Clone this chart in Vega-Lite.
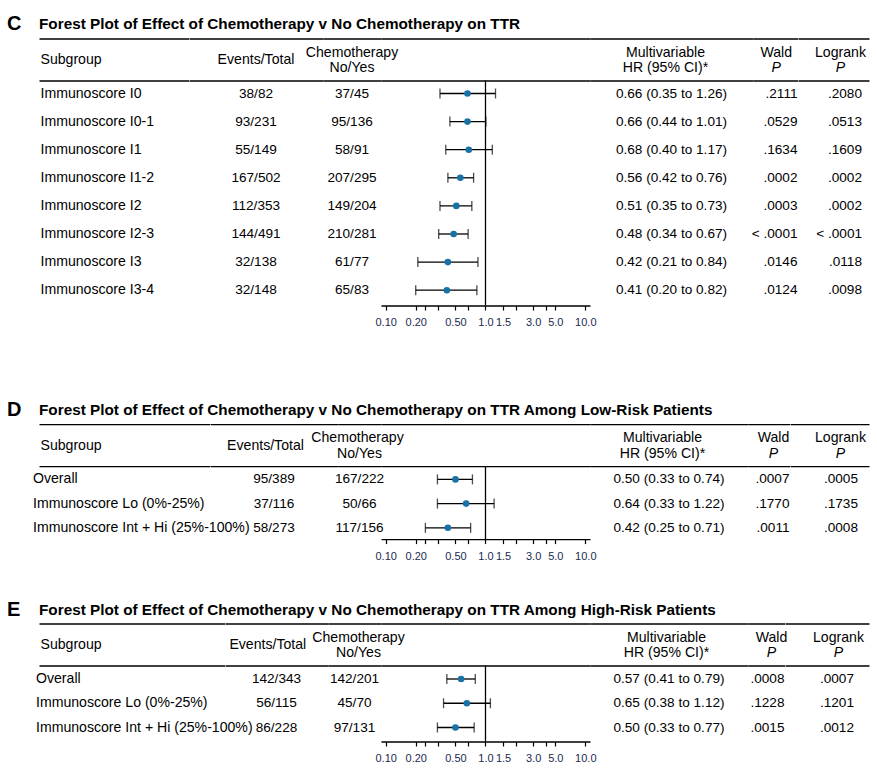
{
"$schema": "https://vega.github.io/schema/vega-lite/v6.json",
"padding": {"left": 7, "top": 13.5, "right": 4, "bottom": 4},
"config": {
 "view": {"stroke": null},
 "text": {"font": "Liberation Sans", "fontSize": 13.6, "baseline": "middle", "color": "#000000"},
 "axisY": {"grid": true, "gridColor": "#000000", "gridWidth": 1.3, "gridOpacity": 1, "labels": false, "ticks": false, "domain": false},
 "axisX": {"grid": false, "tickSize": 4.5, "tickWidth": 1.2, "tickColor": "#000000", "domainColor": "#000000", "domainWidth": 1.3, "labelFont": "Liberation Sans", "labelFontSize": 11, "labelColor": "#1a2a50", "labelPadding": 6.5, "labelOverlap": false, "labelFlush": false, "labelBound": false}
},
"datasets": {
 "C": [
  {"row": 1, "subgroup": "Immunoscore I0", "events": "38/82", "chemo": "37/45", "hr": "0.66 (0.35 to 1.26)", "wald": ".2111", "logrank": ".2080", "est": 0.66, "lo": 0.35, "hi": 1.26},
  {"row": 2, "subgroup": "Immunoscore I0-1", "events": "93/231", "chemo": "95/136", "hr": "0.66 (0.44 to 1.01)", "wald": ".0529", "logrank": ".0513", "est": 0.66, "lo": 0.44, "hi": 1.01},
  {"row": 3, "subgroup": "Immunoscore I1", "events": "55/149", "chemo": "58/91", "hr": "0.68 (0.40 to 1.17)", "wald": ".1634", "logrank": ".1609", "est": 0.68, "lo": 0.40, "hi": 1.17},
  {"row": 4, "subgroup": "Immunoscore I1-2", "events": "167/502", "chemo": "207/295", "hr": "0.56 (0.42 to 0.76)", "wald": ".0002", "logrank": ".0002", "est": 0.56, "lo": 0.42, "hi": 0.76},
  {"row": 5, "subgroup": "Immunoscore I2", "events": "112/353", "chemo": "149/204", "hr": "0.51 (0.35 to 0.73)", "wald": ".0003", "logrank": ".0002", "est": 0.51, "lo": 0.35, "hi": 0.73},
  {"row": 6, "subgroup": "Immunoscore I2-3", "events": "144/491", "chemo": "210/281", "hr": "0.48 (0.34 to 0.67)", "wald": "< .0001", "logrank": "< .0001", "est": 0.48, "lo": 0.34, "hi": 0.67},
  {"row": 7, "subgroup": "Immunoscore I3", "events": "32/138", "chemo": "61/77", "hr": "0.42 (0.21 to 0.84)", "wald": ".0146", "logrank": ".0118", "est": 0.42, "lo": 0.21, "hi": 0.84},
  {"row": 8, "subgroup": "Immunoscore I3-4", "events": "32/148", "chemo": "65/83", "hr": "0.41 (0.20 to 0.82)", "wald": ".0124", "logrank": ".0098", "est": 0.41, "lo": 0.20, "hi": 0.82}
 ],
 "D": [
  {"row": 1, "subgroup": "Overall", "events": "95/389", "chemo": "167/222", "hr": "0.50 (0.33 to 0.74)", "wald": ".0007", "logrank": ".0005", "est": 0.50, "lo": 0.33, "hi": 0.74},
  {"row": 2, "subgroup": "Immunoscore Lo (0%-25%)", "events": "37/116", "chemo": "50/66", "hr": "0.64 (0.33 to 1.22)", "wald": ".1770", "logrank": ".1735", "est": 0.64, "lo": 0.33, "hi": 1.22},
  {"row": 3, "subgroup": "Immunoscore Int + Hi (25%-100%)", "events": "58/273", "chemo": "117/156", "hr": "0.42 (0.25 to 0.71)", "wald": ".0011", "logrank": ".0008", "est": 0.42, "lo": 0.25, "hi": 0.71}
 ],
 "E": [
  {"row": 1, "subgroup": "Overall", "events": "142/343", "chemo": "142/201", "hr": "0.57 (0.41 to 0.79)", "wald": ".0008", "logrank": ".0007", "est": 0.57, "lo": 0.41, "hi": 0.79},
  {"row": 2, "subgroup": "Immunoscore Lo (0%-25%)", "events": "56/115", "chemo": "45/70", "hr": "0.65 (0.38 to 1.12)", "wald": ".1228", "logrank": ".1201", "est": 0.65, "lo": 0.38, "hi": 1.12},
  {"row": 3, "subgroup": "Immunoscore Int + Hi (25%-100%)", "events": "86/228", "chemo": "97/131", "hr": "0.50 (0.33 to 0.77)", "wald": ".0015", "logrank": ".0012", "est": 0.50, "lo": 0.33, "hi": 0.77}
 ]
},
"spacing": 71.6,
"vconcat": [
 {"hconcat": [
  {"width": 32, "height": 267, "data": {"values": [{"panel": "C"}]},
   "mark": {"type": "text", "align": "left", "fontSize": 20, "fontWeight": "bold"},
   "encoding": {"x": {"value": 0}, "y": {"datum": -1.4662, "type": "quantitative", "scale": {"domain": [-0.9573, 8.5445], "reverse": true, "nice": false, "zero": false}, "axis": null}, "text": {"field": "panel"}}},
  {"width": 149.5, "height": 267, "layer": [
   {"data": {"name": "C"}, "mark": {"type": "text", "align": "left", "dx": 1.5, "fontSize": 14.1},
    "encoding": {"x": {"value": 0}, "y": {"field": "row", "type": "quantitative", "scale": {"domain": [-0.9573, 8.5445], "reverse": true, "nice": false, "zero": false}, "axis": {"values": [-0.9573, 0.5374], "title": null}}, "text": {"field": "subgroup"}}},
   {"data": {"values": [{"h": "Subgroup"}]}, "mark": {"type": "text", "align": "left", "dx": 1.5, "fontSize": 14.1},
    "encoding": {"x": {"value": 0}, "y": {"datum": -0.185}, "text": {"field": "h"}}},
   {"data": {"values": [{"h": "Forest Plot of Effect of Chemotherapy v No Chemotherapy on TTR"}]}, "mark": {"type": "text", "align": "left", "fontSize": 15.3, "fontWeight": "bold"},
    "encoding": {"x": {"value": 0}, "y": {"datum": -1.4662}, "text": {"field": "h"}}}
  ]},
  {"width": 134, "height": 267, "layer": [
   {"data": {"name": "C"}, "mark": {"type": "text"},
    "encoding": {"y": {"field": "row", "type": "quantitative", "scale": {"domain": [-0.9573, 8.5445], "reverse": true, "nice": false, "zero": false}, "axis": {"values": [-0.9573, 0.5374], "title": null}}, "text": {"field": "events"}}},
   {"data": {"values": [{"h": "Events/Total"}]}, "mark": {"type": "text", "fontSize": 14.1},
    "encoding": {"y": {"datum": -0.185}, "text": {"field": "h"}}}
  ]},
  {"width": 58, "height": 267, "layer": [
   {"data": {"name": "C"}, "mark": {"type": "text"},
    "encoding": {"y": {"field": "row", "type": "quantitative", "scale": {"domain": [-0.9573, 8.5445], "reverse": true, "nice": false, "zero": false}, "axis": {"values": [-0.9573, 0.5374], "title": null}}, "text": {"field": "chemo"}}},
   {"data": {"values": [{"h": "Chemotherapy"}]}, "mark": {"type": "text", "fontSize": 14.1},
    "encoding": {"y": {"datum": -0.4413}, "text": {"field": "h"}}},
   {"data": {"values": [{"h": "No/Yes"}]}, "mark": {"type": "text", "fontSize": 14.1},
    "encoding": {"y": {"datum": 0.0925}, "text": {"field": "h"}}}
  ]},
  {"width": 209, "height": 267, "layer": [
   {"data": {"values": [{}]}, "mark": {"type": "rule", "color": "#000000", "strokeWidth": 1.3},
    "encoding": {
     "x": {"datum": 1, "type": "quantitative", "scale": {"type": "log", "domain": [0.0898, 11.14], "nice": false},
      "axis": {"values": [0.1, 0.2, 0.25, 0.3333, 0.5, 0.6667, 1, 1.5, 2, 3, 4, 5, 10], "title": null, "labelExpr": "datum.value == 0.1 ? '0.10' : datum.value == 0.2 ? '0.20' : datum.value == 0.5 ? '0.50' : datum.value == 1 ? '1.0' : datum.value == 1.5 ? '1.5' : datum.value == 3 ? '3.0' : datum.value == 5 ? '5.0' : datum.value == 10 ? '10.0' : ''"}},
     "y": {"datum": 0.5374, "type": "quantitative", "scale": {"domain": [-0.9573, 8.5445], "reverse": true, "nice": false, "zero": false}, "axis": {"values": [-0.9573, 0.5374], "title": null}},
     "y2": {"datum": 8.5445}}},
   {"data": {"name": "C"}, "mark": {"type": "rule", "color": "#000000", "strokeWidth": 1.3},
    "encoding": {"x": {"field": "lo", "type": "quantitative"}, "x2": {"field": "hi"}, "y": {"field": "row", "type": "quantitative"}}},
   {"data": {"name": "C"}, "mark": {"type": "tick", "orient": "vertical", "color": "#000000", "size": 10, "thickness": 1.3},
    "encoding": {"x": {"field": "lo", "type": "quantitative"}, "y": {"field": "row", "type": "quantitative"}}},
   {"data": {"name": "C"}, "mark": {"type": "tick", "orient": "vertical", "color": "#000000", "size": 10, "thickness": 1.3},
    "encoding": {"x": {"field": "hi", "type": "quantitative"}, "y": {"field": "row", "type": "quantitative"}}},
   {"data": {"name": "C"}, "mark": {"type": "circle", "color": "#1872a6", "opacity": 1, "size": 44},
    "encoding": {"x": {"field": "est", "type": "quantitative"}, "y": {"field": "row", "type": "quantitative"}}}
  ]},
  {"width": 163, "height": 267, "layer": [
   {"data": {"name": "C"}, "mark": {"type": "text"},
    "encoding": {"y": {"field": "row", "type": "quantitative", "scale": {"domain": [-0.9573, 8.5445], "reverse": true, "nice": false, "zero": false}, "axis": {"values": [-0.9573, 0.5374], "title": null}}, "text": {"field": "hr"}}},
   {"data": {"values": [{"h": "Multivariable"}]}, "mark": {"type": "text", "dx": -6, "fontSize": 14.1},
    "encoding": {"y": {"datum": -0.4413}, "text": {"field": "h"}}},
   {"data": {"values": [{"h": "HR (95% CI)*"}]}, "mark": {"type": "text", "dx": -6, "fontSize": 14.1},
    "encoding": {"y": {"datum": 0.0925}, "text": {"field": "h"}}}
  ]},
  {"width": 44.5, "height": 267, "layer": [
   {"data": {"name": "C"}, "mark": {"type": "text", "align": "right"},
    "encoding": {"x": {"value": "width"}, "y": {"field": "row", "type": "quantitative", "scale": {"domain": [-0.9573, 8.5445], "reverse": true, "nice": false, "zero": false}, "axis": {"values": [-0.9573, 0.5374], "title": null}}, "text": {"field": "wald"}}},
   {"data": {"values": [{"h": "Wald"}]}, "mark": {"type": "text", "dx": 1, "fontSize": 14.1},
    "encoding": {"y": {"datum": -0.4413}, "text": {"field": "h"}}},
   {"data": {"values": [{"h": "P"}]}, "mark": {"type": "text", "dx": 1, "fontSize": 14.1, "fontStyle": "italic"},
    "encoding": {"y": {"datum": 0.0925}, "text": {"field": "h"}}}
  ]},
  {"width": 71, "height": 267, "layer": [
   {"data": {"name": "C"}, "mark": {"type": "text", "align": "right", "dx": -7},
    "encoding": {"x": {"value": "width"}, "y": {"field": "row", "type": "quantitative", "scale": {"domain": [-0.9573, 8.5445], "reverse": true, "nice": false, "zero": false}, "axis": {"values": [-0.9573, 0.5374], "title": null}}, "text": {"field": "logrank"}}},
   {"data": {"values": [{"h": "Logrank"}]}, "mark": {"type": "text", "dx": 7, "fontSize": 14.1},
    "encoding": {"y": {"datum": -0.4413}, "text": {"field": "h"}}},
   {"data": {"values": [{"h": "P"}]}, "mark": {"type": "text", "dx": 7, "fontSize": 14.1, "fontStyle": "italic"},
    "encoding": {"y": {"datum": 0.0925}, "text": {"field": "h"}}}
  ]}
 ], "spacing": 0, "bounds": "flush"},
 {"vconcat": [
  {"hconcat": [
   {"width": 32, "height": 115, "data": {"values": [{"panel": "D"}]},
    "mark": {"type": "text", "align": "left", "fontSize": 20, "fontWeight": "bold"},
    "encoding": {"x": {"value": 0}, "y": {"datum": -1.8884, "type": "quantitative", "scale": {"domain": [-1.2851, 3.467], "reverse": true, "nice": false, "zero": false}, "axis": null}, "text": {"field": "panel"}}},
   {"width": 170.5, "height": 115, "layer": [
    {"data": {"name": "D"}, "mark": {"type": "text", "align": "left", "dx": -6, "fontSize": 14.1},
     "encoding": {"x": {"value": 0}, "y": {"field": "row", "type": "quantitative", "scale": {"domain": [-1.2851, 3.467], "reverse": true, "nice": false, "zero": false}, "axis": {"values": [-1.2851, 0.4504], "title": null}}, "text": {"field": "subgroup"}}},
    {"data": {"values": [{"h": "Subgroup"}]}, "mark": {"type": "text", "align": "left", "dx": 1.5, "fontSize": 14.1},
     "encoding": {"x": {"value": 0}, "y": {"datum": -0.3884}, "text": {"field": "h"}}},
    {"data": {"values": [{"h": "Forest Plot of Effect of Chemotherapy v No Chemotherapy on TTR Among Low-Risk Patients"}]}, "mark": {"type": "text", "align": "left", "fontSize": 15.3, "fontWeight": "bold"},
     "encoding": {"x": {"value": 0}, "y": {"datum": -1.8884}, "text": {"field": "h"}}}
   ]},
   {"width": 128, "height": 115, "layer": [
    {"data": {"name": "D"}, "mark": {"type": "text"},
     "encoding": {"y": {"field": "row", "type": "quantitative", "scale": {"domain": [-1.2851, 3.467], "reverse": true, "nice": false, "zero": false}, "axis": {"values": [-1.2851, 0.4504], "title": null}}, "text": {"field": "events"}}},
    {"data": {"values": [{"h": "Events/Total"}]}, "mark": {"type": "text", "dx": -8.5, "fontSize": 14.1},
     "encoding": {"y": {"datum": -0.3884}, "text": {"field": "h"}}}
   ]},
   {"width": 43, "height": 115, "layer": [
    {"data": {"name": "D"}, "mark": {"type": "text"},
     "encoding": {"y": {"field": "row", "type": "quantitative", "scale": {"domain": [-1.2851, 3.467], "reverse": true, "nice": false, "zero": false}, "axis": {"values": [-1.2851, 0.4504], "title": null}}, "text": {"field": "chemo"}}},
    {"data": {"values": [{"h": "Chemotherapy"}]}, "mark": {"type": "text", "dx": -2, "fontSize": 14.1},
     "encoding": {"y": {"datum": -0.6901}, "text": {"field": "h"}}},
    {"data": {"values": [{"h": "No/Yes"}]}, "mark": {"type": "text", "fontSize": 14.1},
     "encoding": {"y": {"datum": -0.0702}, "text": {"field": "h"}}}
   ]},
   {"width": 209, "height": 115, "layer": [
    {"data": {"values": [{}]}, "mark": {"type": "rule", "color": "#000000", "strokeWidth": 1.3},
     "encoding": {
      "x": {"datum": 1, "type": "quantitative", "scale": {"type": "log", "domain": [0.0898, 11.14], "nice": false},
       "axis": {"values": [0.1, 0.2, 0.25, 0.3333, 0.5, 0.6667, 1, 1.5, 2, 3, 4, 5, 10], "title": null, "labelExpr": "datum.value == 0.1 ? '0.10' : datum.value == 0.2 ? '0.20' : datum.value == 0.5 ? '0.50' : datum.value == 1 ? '1.0' : datum.value == 1.5 ? '1.5' : datum.value == 3 ? '3.0' : datum.value == 5 ? '5.0' : datum.value == 10 ? '10.0' : ''"}},
      "y": {"datum": 0.4504, "type": "quantitative", "scale": {"domain": [-1.2851, 3.467], "reverse": true, "nice": false, "zero": false}, "axis": {"values": [-1.2851, 0.4504], "title": null}},
      "y2": {"datum": 3.467}}},
    {"data": {"name": "D"}, "mark": {"type": "rule", "color": "#000000", "strokeWidth": 1.3},
     "encoding": {"x": {"field": "lo", "type": "quantitative"}, "x2": {"field": "hi"}, "y": {"field": "row", "type": "quantitative"}}},
    {"data": {"name": "D"}, "mark": {"type": "tick", "orient": "vertical", "color": "#000000", "size": 10, "thickness": 1.3},
     "encoding": {"x": {"field": "lo", "type": "quantitative"}, "y": {"field": "row", "type": "quantitative"}}},
    {"data": {"name": "D"}, "mark": {"type": "tick", "orient": "vertical", "color": "#000000", "size": 10, "thickness": 1.3},
     "encoding": {"x": {"field": "hi", "type": "quantitative"}, "y": {"field": "row", "type": "quantitative"}}},
    {"data": {"name": "D"}, "mark": {"type": "circle", "color": "#1872a6", "opacity": 1, "size": 44},
     "encoding": {"x": {"field": "est", "type": "quantitative"}, "y": {"field": "row", "type": "quantitative"}}}
   ]},
   {"width": 158, "height": 115, "layer": [
    {"data": {"name": "D"}, "mark": {"type": "text"},
     "encoding": {"y": {"field": "row", "type": "quantitative", "scale": {"domain": [-1.2851, 3.467], "reverse": true, "nice": false, "zero": false}, "axis": {"values": [-1.2851, 0.4504], "title": null}}, "text": {"field": "hr"}}},
    {"data": {"values": [{"h": "Multivariable"}]}, "mark": {"type": "text", "dx": -6.5, "fontSize": 14.1},
     "encoding": {"y": {"datum": -0.6901}, "text": {"field": "h"}}},
    {"data": {"values": [{"h": "HR (95% CI)*"}]}, "mark": {"type": "text", "dx": -6.5, "fontSize": 14.1},
     "encoding": {"y": {"datum": -0.0702}, "text": {"field": "h"}}}
   ]},
   {"width": 41.5, "height": 115, "layer": [
    {"data": {"name": "D"}, "mark": {"type": "text", "align": "right"},
     "encoding": {"x": {"value": "width"}, "y": {"field": "row", "type": "quantitative", "scale": {"domain": [-1.2851, 3.467], "reverse": true, "nice": false, "zero": false}, "axis": {"values": [-1.2851, 0.4504], "title": null}}, "text": {"field": "wald"}}},
    {"data": {"values": [{"h": "Wald"}]}, "mark": {"type": "text", "dx": 4.75, "fontSize": 14.1},
     "encoding": {"y": {"datum": -0.6901}, "text": {"field": "h"}}},
    {"data": {"values": [{"h": "P"}]}, "mark": {"type": "text", "dx": 4.75, "fontSize": 14.1, "fontStyle": "italic"},
     "encoding": {"y": {"datum": -0.0702}, "text": {"field": "h"}}}
   ]},
   {"width": 79, "height": 115, "layer": [
    {"data": {"name": "D"}, "mark": {"type": "text", "align": "right", "dx": -11},
     "encoding": {"x": {"value": "width"}, "y": {"field": "row", "type": "quantitative", "scale": {"domain": [-1.2851, 3.467], "reverse": true, "nice": false, "zero": false}, "axis": {"values": [-1.2851, 0.4504], "title": null}}, "text": {"field": "logrank"}}},
    {"data": {"values": [{"h": "Logrank"}]}, "mark": {"type": "text", "dx": 11, "fontSize": 14.1},
     "encoding": {"y": {"datum": -0.6901}, "text": {"field": "h"}}},
    {"data": {"values": [{"h": "P"}]}, "mark": {"type": "text", "dx": 11, "fontSize": 14.1, "fontStyle": "italic"},
     "encoding": {"y": {"datum": -0.0702}, "text": {"field": "h"}}}
   ]}
  ], "spacing": 0, "bounds": "flush"},
  {"hconcat": [
   {"width": 32, "height": 118, "data": {"values": [{"panel": "E"}]},
    "mark": {"type": "text", "align": "left", "fontSize": 20, "fontWeight": "bold"},
    "encoding": {"x": {"value": 0}, "y": {"datum": -1.866, "type": "quantitative", "scale": {"domain": [-1.2887, 3.5773], "reverse": true, "nice": false, "zero": false}, "axis": null}, "text": {"field": "panel"}}},
   {"width": 185.5, "height": 118, "layer": [
    {"data": {"name": "E"}, "mark": {"type": "text", "align": "left", "dx": -3, "fontSize": 14.1},
     "encoding": {"x": {"value": 0}, "y": {"field": "row", "type": "quantitative", "scale": {"domain": [-1.2887, 3.5773], "reverse": true, "nice": false, "zero": false}, "axis": {"values": [-1.2887, 0.4433], "title": null}}, "text": {"field": "subgroup"}}},
    {"data": {"values": [{"h": "Subgroup"}]}, "mark": {"type": "text", "align": "left", "dx": 1.5, "fontSize": 14.1},
     "encoding": {"x": {"value": 0}, "y": {"datum": -0.394}, "text": {"field": "h"}}},
    {"data": {"values": [{"h": "Forest Plot of Effect of Chemotherapy v No Chemotherapy on TTR Among High-Risk Patients"}]}, "mark": {"type": "text", "align": "left", "fontSize": 15.3, "fontWeight": "bold"},
     "encoding": {"x": {"value": 0}, "y": {"datum": -1.866}, "text": {"field": "h"}}}
   ]},
   {"width": 103, "height": 118, "layer": [
    {"data": {"name": "E"}, "mark": {"type": "text"},
     "encoding": {"y": {"field": "row", "type": "quantitative", "scale": {"domain": [-1.2887, 3.5773], "reverse": true, "nice": false, "zero": false}, "axis": {"values": [-1.2887, 0.4433], "title": null}}, "text": {"field": "events"}}},
    {"data": {"values": [{"h": "Events/Total"}]}, "mark": {"type": "text", "dx": -8.7, "fontSize": 14.1},
     "encoding": {"y": {"datum": -0.394}, "text": {"field": "h"}}}
   ]},
   {"width": 53, "height": 118, "layer": [
    {"data": {"name": "E"}, "mark": {"type": "text"},
     "encoding": {"y": {"field": "row", "type": "quantitative", "scale": {"domain": [-1.2887, 3.5773], "reverse": true, "nice": false, "zero": false}, "axis": {"values": [-1.2887, 0.4433], "title": null}}, "text": {"field": "chemo"}}},
    {"data": {"values": [{"h": "Chemotherapy"}]}, "mark": {"type": "text", "dx": 4, "fontSize": 14.1},
     "encoding": {"y": {"datum": -0.695}, "text": {"field": "h"}}},
    {"data": {"values": [{"h": "No/Yes"}]}, "mark": {"type": "text", "dx": 4, "fontSize": 14.1},
     "encoding": {"y": {"datum": -0.0763}, "text": {"field": "h"}}}
   ]},
   {"width": 209, "height": 118, "layer": [
    {"data": {"values": [{}]}, "mark": {"type": "rule", "color": "#000000", "strokeWidth": 1.3},
     "encoding": {
      "x": {"datum": 1, "type": "quantitative", "scale": {"type": "log", "domain": [0.0898, 11.14], "nice": false},
       "axis": {"values": [0.1, 0.2, 0.25, 0.3333, 0.5, 0.6667, 1, 1.5, 2, 3, 4, 5, 10], "title": null, "labelExpr": "datum.value == 0.1 ? '0.10' : datum.value == 0.2 ? '0.20' : datum.value == 0.5 ? '0.50' : datum.value == 1 ? '1.0' : datum.value == 1.5 ? '1.5' : datum.value == 3 ? '3.0' : datum.value == 5 ? '5.0' : datum.value == 10 ? '10.0' : ''"}},
      "y": {"datum": 0.4433, "type": "quantitative", "scale": {"domain": [-1.2887, 3.5773], "reverse": true, "nice": false, "zero": false}, "axis": {"values": [-1.2887, 0.4433], "title": null}},
      "y2": {"datum": 3.5773}}},
    {"data": {"name": "E"}, "mark": {"type": "rule", "color": "#000000", "strokeWidth": 1.3},
     "encoding": {"x": {"field": "lo", "type": "quantitative"}, "x2": {"field": "hi"}, "y": {"field": "row", "type": "quantitative"}}},
    {"data": {"name": "E"}, "mark": {"type": "tick", "orient": "vertical", "color": "#000000", "size": 10, "thickness": 1.3},
     "encoding": {"x": {"field": "lo", "type": "quantitative"}, "y": {"field": "row", "type": "quantitative"}}},
    {"data": {"name": "E"}, "mark": {"type": "tick", "orient": "vertical", "color": "#000000", "size": 10, "thickness": 1.3},
     "encoding": {"x": {"field": "hi", "type": "quantitative"}, "y": {"field": "row", "type": "quantitative"}}},
    {"data": {"name": "E"}, "mark": {"type": "circle", "color": "#1872a6", "opacity": 1, "size": 44},
     "encoding": {"x": {"field": "est", "type": "quantitative"}, "y": {"field": "row", "type": "quantitative"}}}
   ]},
   {"width": 158, "height": 118, "layer": [
    {"data": {"name": "E"}, "mark": {"type": "text"},
     "encoding": {"y": {"field": "row", "type": "quantitative", "scale": {"domain": [-1.2887, 3.5773], "reverse": true, "nice": false, "zero": false}, "axis": {"values": [-1.2887, 0.4433], "title": null}}, "text": {"field": "hr"}}},
    {"data": {"values": [{"h": "Multivariable"}]}, "mark": {"type": "text", "dx": -2.5, "fontSize": 14.1},
     "encoding": {"y": {"datum": -0.695}, "text": {"field": "h"}}},
    {"data": {"values": [{"h": "HR (95% CI)*"}]}, "mark": {"type": "text", "dx": -2.5, "fontSize": 14.1},
     "encoding": {"y": {"datum": -0.0763}, "text": {"field": "h"}}}
   ]},
   {"width": 36.5, "height": 118, "layer": [
    {"data": {"name": "E"}, "mark": {"type": "text", "align": "right"},
     "encoding": {"x": {"value": "width"}, "y": {"field": "row", "type": "quantitative", "scale": {"domain": [-1.2887, 3.5773], "reverse": true, "nice": false, "zero": false}, "axis": {"values": [-1.2887, 0.4433], "title": null}}, "text": {"field": "wald"}}},
    {"data": {"values": [{"h": "Wald"}]}, "mark": {"type": "text", "dx": 5.25, "fontSize": 14.1},
     "encoding": {"y": {"datum": -0.695}, "text": {"field": "h"}}},
    {"data": {"values": [{"h": "P"}]}, "mark": {"type": "text", "dx": 5.25, "fontSize": 14.1, "fontStyle": "italic"},
     "encoding": {"y": {"datum": -0.0763}, "text": {"field": "h"}}}
   ]},
   {"width": 84, "height": 118, "layer": [
    {"data": {"name": "E"}, "mark": {"type": "text", "align": "right", "dx": -15},
     "encoding": {"x": {"value": "width"}, "y": {"field": "row", "type": "quantitative", "scale": {"domain": [-1.2887, 3.5773], "reverse": true, "nice": false, "zero": false}, "axis": {"values": [-1.2887, 0.4433], "title": null}}, "text": {"field": "logrank"}}},
    {"data": {"values": [{"h": "Logrank"}]}, "mark": {"type": "text", "dx": 11.5, "fontSize": 14.1},
     "encoding": {"y": {"datum": -0.695}, "text": {"field": "h"}}},
    {"data": {"values": [{"h": "P"}]}, "mark": {"type": "text", "dx": 11.5, "fontSize": 14.1, "fontStyle": "italic"},
     "encoding": {"y": {"datum": -0.0763}, "text": {"field": "h"}}}
   ]}
  ], "spacing": 0, "bounds": "flush"}
 ], "spacing": 38.4}
]
}
